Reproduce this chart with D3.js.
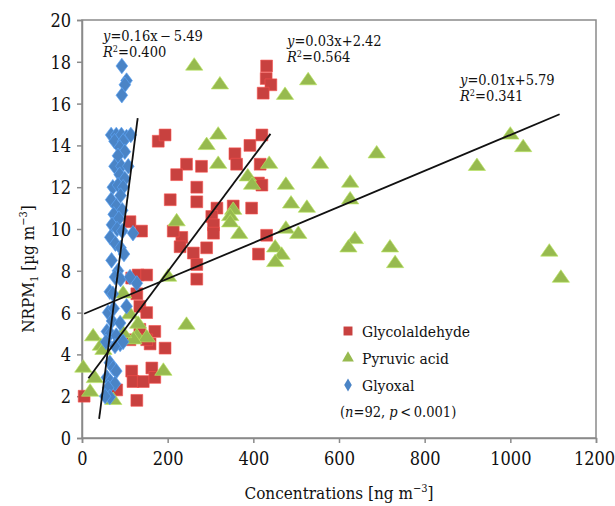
<!DOCTYPE html>
<html lang="en">
<head>
<meta charset="UTF-8">
<title>NRPM1 vs concentrations</title>
<script src="https://d3js.org/d3.v7.min.js"></script>
<style>
    body { margin: 0; background: #fff; }
    svg text { fill: #111; font-family: "DejaVu Serif"; }
    svg text.cond { font-family: "DejaVu Serif Condensed", "DejaVu Serif"; }
</style>
</head>
<body>
<script>
// data: [concentration ng m-3, NRPM1 ug m-3]
const glycolaldehyde = [
    [431,17.8],[430,17.2],[441,16.9],[423,16.5],[420,14.5],[392,14.0],[357,13.6],[361,13.1],
    [416,13.1],[244,13.1],[279,13.0],[412,12.2],[420,12.1],[268,12.0],[268,11.3],[315,11.0],
    [353,11.1],[396,11.0],[303,10.6],[307,10.2],[307,9.8],[431,9.7],[233,9.6],[178,14.2],
    [194,14.5],[221,12.6],[206,11.4],[112,10.35],[139,9.9],[213,9.9],[229,9.15],[260,8.85],
    [291,9.1],[268,8.3],[268,7.6],[412,8.8],[116,7.65],[131,7.8],[151,7.8],[128,6.9],[135,6.3],
    [151,6.0],[170,5.1],[135,5.2],[159,4.5],[194,4.3],[151,4.7],[112,4.7],[116,3.2],[163,3.35],
    [119,2.7],[143,2.7],[170,2.9],[128,1.8],[81,2.3],[5,2.0]
];
const pyruvicAcid = [
    [262,17.8],[322,16.9],[474,16.4],[528,17.1],[318,14.5],[291,14.0],[318,13.1],[437,13.1],
    [556,13.1],[387,12.5],[397,12.1],[476,12.1],[488,11.2],[525,11.0],[353,10.9],[346,10.6],
    [346,10.3],[476,10.0],[367,9.75],[505,9.75],[221,10.35],[451,9.1],[466,8.75],[451,8.4],
    [688,13.6],[626,12.2],[626,11.4],[922,13.0],[1000,14.5],[1030,13.9],[637,9.5],[622,9.1],
    [719,9.1],[731,8.35],[1091,8.9],[1118,7.65],[201,7.7],[96,6.9],[112,5.9],[131,5.45],
    [244,5.4],[128,4.85],[151,4.8],[26,4.85],[44,4.4],[50,4.2],[120,4.7],[96,5.0],[190,3.2],
    [3,3.35],[30,2.85],[19,2.2],[73,1.8]
];
const glyoxal = [
    [93,17.8],[104,17.1],[100,16.9],[93,16.4],[68,14.5],[80,14.5],[92,14.5],[104,14.4],
    [114,14.5],[76,14.2],[96,14.2],[88,13.9],[100,13.7],[84,13.5],[76,13.0],[92,13.0],
    [108,13.0],[88,12.6],[100,12.4],[72,12.0],[84,12.1],[96,12.0],[90,11.6],[68,11.4],
    [80,11.1],[94,10.9],[74,10.7],[86,10.5],[70,10.2],[82,10.0],[94,9.9],[66,9.6],[119,9.8],
    [78,9.3],[90,9.1],[98,8.8],[69,8.5],[84,8.0],[77,7.7],[90,7.6],[128,7.4],[112,7.7],
    [65,7.0],[72,6.9],[61,6.0],[74,6.2],[104,6.3],[70,5.6],[89,5.5],[58,5.1],[66,5.0],
    [80,4.9],[56,4.6],[89,4.5],[77,4.4],[96,4.6],[65,3.6],[73,3.35],[80,3.2],[58,2.9],
    [66,2.7],[77,2.6],[61,2.4],[65,1.96],[54,2.0]
];

// fitted lines: slope, intercept, x range as drawn
const fitLines = [
    { slope: 0.16,   intercept: -5.49, x0: 40, x1: 130 },
    { slope: 0.0275, intercept: 2.45,  x0: 15, x1: 440 },
    { slope: 0.0086, intercept: 5.9,   x0: 5,  x1: 1115 }
];
const xTicks = [0, 200, 400, 600, 800, 1000, 1200];
const yTicks = [0, 2, 4, 6, 8, 10, 12, 14, 16, 18, 20];
const legendNames = ["Glycolaldehyde", "Pyruvic acid", "Glyoxal"];
const colors = ["#C8413F", "#97BA4F", "#4A84C6"];

const width = 615, height = 506;
const margin = { top: 20, right: 19, bottom: 68, left: 82 };

const svg = d3.select("body").append("svg")
    .attr("width", width)
    .attr("height", height);

const x = d3.scaleLinear().domain([0, 1200]).range([margin.left, width - margin.right]);
const y = d3.scaleLinear().domain([0, 20]).range([height - margin.bottom, margin.top]);

// frame
svg.append("rect")
    .attr("x", x(0)).attr("y", y(20))
    .attr("width", x(1200) - x(0)).attr("height", y(0) - y(20))
    .attr("fill", "none").attr("stroke", "#8a8a8a").attr("stroke-width", 1.5);

const xAxis = svg.append("g")
    .attr("transform", `translate(0,${y(0)})`)
    .call(d3.axisBottom(x).tickValues(xTicks).tickFormat(d3.format("d")).tickSize(5).tickPadding(9));
const yAxis = svg.append("g")
    .attr("transform", `translate(${x(0)},0)`)
    .call(d3.axisLeft(y).tickValues(yTicks).tickFormat(d3.format("d")).tickSize(5).tickPadding(6));
[xAxis, yAxis].forEach(g => {
    g.attr("font-family", null);
    g.select(".domain").attr("stroke", "#8a8a8a").attr("stroke-width", 1.5);
    g.selectAll(".tick line").attr("stroke", "#8a8a8a").attr("stroke-width", 1.5);
    g.selectAll(".tick text").attr("class", "cond").attr("font-size", 18).attr("fill", "#111");
});
yAxis.selectAll(".tick text").attr("dy", "0.36em");
xAxis.selectAll(".tick text").filter(d => d === 1200).attr("dx", -2);

// markers
const sq = d3.symbol().type(d3.symbolSquare).size(140);
const tri = d3.symbol().type(d3.symbolTriangle).size(90);
const dia = d3.symbol().type(d3.symbolDiamond).size(70);
const symbols = [sq, tri, dia];
const series = [glycolaldehyde, pyruvicAcid, glyoxal];

series.forEach((data, i) => {
    svg.append("g")
        .selectAll("path")
        .data(data)
        .join("path")
        .attr("d", symbols[i])
        .attr("transform", d => `translate(${x(d[0])},${y(d[1])})${i === 1 ? " scale(1.2,1)" : ""}${i === 2 ? " scale(1.3,1)" : ""}`)
        .attr("fill", colors[i])
        .attr("stroke", d3.rgb(colors[i]).brighter(0.6))
        .attr("stroke-width", 0.6);
});

// trend lines
svg.append("g")
    .selectAll("line")
    .data(fitLines)
    .join("line")
    .attr("x1", d => x(d.x0)).attr("y1", d => y(d.slope * d.x0 + d.intercept))
    .attr("x2", d => x(d.x1)).attr("y2", d => y(d.slope * d.x1 + d.intercept))
    .attr("stroke", "#111").attr("stroke-width", 1.8);

// equations
const equations = [
    { eq: "=0.16x\u2009\u2212\u20095.49", r2: "=0.400", px: 103, py: 41 },
    { eq: "=0.03x+2.42", r2: "=0.564", px: 287, py: 46 },
    { eq: "=0.01x+5.79", r2: "=0.341", px: 460, py: 85 }
];
equations.forEach(e => {
    const t1 = svg.append("text").attr("class", "cond").attr("x", e.px).attr("y", e.py).attr("font-size", 14.5);
    t1.append("tspan").attr("font-style", "italic").text("y");
    t1.append("tspan").text(e.eq);
    const t2 = svg.append("text").attr("class", "cond").attr("x", e.px).attr("y", e.py + 16).attr("font-size", 14.5);
    t2.append("tspan").attr("font-style", "italic").text("R");
    t2.append("tspan").attr("font-size", 9).attr("dy", -5).text("2");
    t2.append("tspan").attr("dy", 5).text(e.r2);
});

// legend
const legend = svg.append("g");
legendNames.forEach((name, i) => {
    const ly = 331 + i * 27;
    legend.append("path")
        .attr("d", d3.symbol().type([d3.symbolSquare, d3.symbolTriangle, d3.symbolDiamond][i]).size([80, 60, 50][i]))
        .attr("transform", `translate(348,${ly})`)
        .attr("fill", colors[i]);
    legend.append("text").attr("class", "cond")
        .attr("x", 362).attr("y", ly + 6)
        .attr("font-size", 15.5)
        .text(name);
});
const note = legend.append("text").attr("class", "cond").attr("x", 340).attr("y", 417).attr("font-size", 14.5);
note.append("tspan").text("(");
note.append("tspan").attr("font-style", "italic").text("n");
note.append("tspan").text("=92, ");
note.append("tspan").attr("font-style", "italic").text("p");
note.append("tspan").text("\u2009<\u20090.001)");

// axis titles
const xt = svg.append("text").attr("class", "cond")
    .attr("x", (x(0) + x(1200)) / 2).attr("y", 499)
    .attr("text-anchor", "middle").attr("font-size", 17);
xt.append("tspan").text("Concentrations [ng m");
xt.append("tspan").attr("font-size", 11).attr("dy", -7).text("\u22123");
xt.append("tspan").attr("dy", 7).text("]");

const yt = svg.append("text").attr("class", "cond")
    .attr("transform", `translate(34,${(y(0) + y(20)) / 2 + 40}) rotate(-90)`)
    .attr("text-anchor", "middle").attr("font-size", 17);
yt.append("tspan").text("NRPM");
yt.append("tspan").attr("font-size", 11).attr("dy", 4).text("1");
yt.append("tspan").attr("dy", -4).text(" [\u00b5g m");
yt.append("tspan").attr("font-size", 11).attr("dy", -7).text("\u22123");
yt.append("tspan").attr("dy", 7).text("]");
</script>
</body>
</html>
